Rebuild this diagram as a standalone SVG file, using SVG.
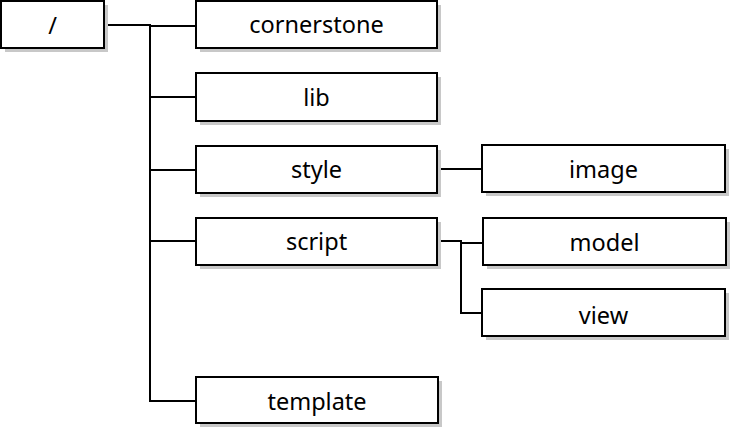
<svg xmlns="http://www.w3.org/2000/svg" width="732" height="435" viewBox="0 0 732 435">
<style>
.sh{fill:#c8c8c8;stroke:none}
.bx{fill:#fff;stroke:#000;stroke-width:2}
.t{font-family:"Noto Sans","Open Sans",sans-serif;font-size:23.5px;fill:#000;text-anchor:middle;dominant-baseline:central}
.c{fill:none;stroke:#000;stroke-width:2}
</style>
<rect width="732" height="435" fill="#fff"/>
<g id="connectors">
<path class="c" d="M104,25 H150 V401 H196"/>
<path class="c" d="M150,26 H196"/>
<path class="c" d="M150,97 H196"/>
<path class="c" d="M150,170 H196"/>
<path class="c" d="M150,241 H196"/>
<path class="c" d="M437,169 H482"/>
<path class="c" d="M437,241 H461 V313 H482"/>
<path class="c" d="M461,243 H483"/>
</g>
<g id="root"><rect class="sh" x="5" y="5" width="103" height="47"/><rect class="bx" x="1" y="1" width="103" height="47"/><text class="t" x="52.5" y="25">/</text></g>
<g id="cornerstone"><rect class="sh" x="200" y="5" width="241" height="47"/><rect class="bx" x="196" y="1" width="241" height="47"/><text class="t" x="316.5" y="24">cornerstone</text></g>
<g id="lib"><rect class="sh" x="200" y="77" width="241" height="48"/><rect class="bx" x="196" y="73" width="241" height="48"/><text class="t" x="316.5" y="97">lib</text></g>
<g id="style"><rect class="sh" x="200" y="150" width="241" height="47"/><rect class="bx" x="196" y="146" width="241" height="47"/><text class="t" x="316.5" y="169">style</text></g>
<g id="script"><rect class="sh" x="200" y="222" width="241" height="47"/><rect class="bx" x="196" y="218" width="241" height="47"/><text class="t" x="316.5" y="241">script</text></g>
<g id="template"><rect class="sh" x="200" y="381" width="242" height="46"/><rect class="bx" x="196" y="377" width="242" height="46"/><text class="t" x="317" y="401">template</text></g>
<g id="image"><rect class="sh" x="486" y="149" width="243" height="47"/><rect class="bx" x="482" y="145" width="243" height="47"/><text class="t" x="603.5" y="169">image</text></g>
<g id="model"><rect class="sh" x="487" y="222" width="243" height="47"/><rect class="bx" x="483" y="218" width="243" height="47"/><text class="t" x="604.5" y="242">model</text></g>
<g id="view"><rect class="sh" x="486" y="293" width="243" height="47"/><rect class="bx" x="482" y="289" width="243" height="47"/><text class="t" x="603.5" y="315">view</text></g>
</svg>
